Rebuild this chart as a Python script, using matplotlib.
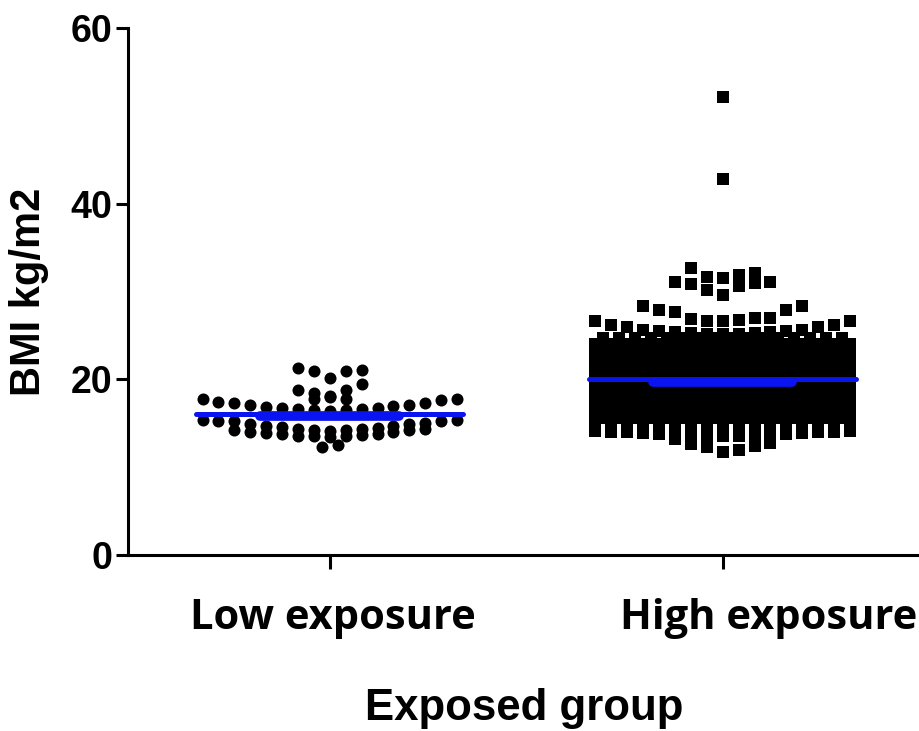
import matplotlib
matplotlib.use("Agg")
import matplotlib.pyplot as plt
import numpy as np

groups = ["Low exposure", "High exposure"]

# BMI values, one list per horizontal row of the dot plot, read left to right
low_rows = [
    [21.3, 21.0, 20.2, 21.0, 21.1],
    [18.8, 18.4, 18.0, 18.8, 19.5],
    [17.8, 18.1, 17.8],
    [17.8, 17.45, 17.3, 17.1, 16.9, 16.7, 16.6, 16.5, 16.4, 16.5, 16.6, 16.7, 17.0, 17.1, 17.3, 17.6, 17.8],
    [15.4, 15.3, 15.2, 14.9, 14.7, 14.6, 14.3, 14.2, 14.1, 14.2, 14.3, 14.5, 14.7, 14.9, 15.0, 15.2, 15.4],
    [14.2, 14.0, 13.9, 13.8, 13.6, 13.5, 13.4, 13.5, 13.7, 13.8, 14.0, 14.2, 14.4],
    [12.3, 12.5],
]

high_outliers = [52.2, 42.8]
high_top_rows = [
    [31.1, 32.7, 31.7, 31.5, 31.9, 32.1, 31.1],
    [30.8, 30.2, 29.6, 30.6, 31.0],
    [28.4, 27.9, 27.7, 26.9, 26.6, 26.6, 26.8, 27.0, 27.0, 27.9, 28.4],
    [26.6, 26.2, 25.9, 25.6, 25.5, 25.4, 25.3, 25.2, 25.2, 25.2, 25.3, 25.4, 25.5, 25.6, 25.9, 26.2, 26.6],
]
# the packed middle of the high group: row level and points per row
high_dense_levels = [24.7, 24.05, 23.4, 22.75, 22.1, 21.45, 20.8, 20.15,
                     19.5, 18.85, 18.2, 17.55, 16.9, 16.25, 15.6, 14.95]
high_dense_counts = [16, 17] * 8
high_bottom_rows = [
    [14.1, 14.0, 14.0, 13.9, 13.8, 13.7, 13.6, 13.5, 13.5, 13.5, 13.6, 13.7, 13.8, 13.9, 14.0, 14.0, 14.1],
    [13.2, 12.6, 12.3, 11.7, 11.9, 12.4, 12.8],
]

# blue summary lines (wide thin line and short thick line)
line_wide = [16.05, 20.0]
line_narrow = [15.8, 19.7]

high_rows = (
    [[v] for v in high_outliers]
    + high_top_rows
    + [[v] * n for v, n in zip(high_dense_levels, high_dense_counts)]
    + high_bottom_rows
)

DX = 0.0405
WIDE_HALF = 0.34
NARROW_HALF = 0.177

fig = plt.figure(figsize=(9.2, 7.31), dpi=100)
ax = fig.add_axes([0.139, 0.2408, 0.861, 0.7209])


def draw_rows(rows, xc, marker, size):
    for row in rows:
        n = len(row)
        offs = (np.arange(n) - (n - 1) / 2) * DX
        ax.scatter(xc + offs, row, marker=marker, s=size, c="black",
                   linewidths=0, zorder=2)


draw_rows(low_rows, 0, "o", 75)
draw_rows(high_rows, 1, "s", 66)

for i in range(len(groups)):
    ax.plot([i - WIDE_HALF, i + WIDE_HALF], [line_wide[i]] * 2, color="#0a14f0",
            lw=3.6, solid_capstyle="round", zorder=3)
    ax.plot([i - NARROW_HALF, i + NARROW_HALF], [line_narrow[i]] * 2, color="#0a14f0",
            lw=7.0, solid_capstyle="round", zorder=3)

ax.set_xlim(-0.514, 1.502)
ax.set_ylim(0, 60)
ax.set_yticks([0, 20, 40, 60])
ax.set_xticks([0, 1])
ax.set_xticklabels([])
for lab in ax.get_yticklabels():
    lab.set_fontfamily("Liberation Sans")
    lab.set_fontweight("bold")
    lab.set_fontsize(27)

# category labels; the second one sits right of its tick in the original
for i, (name, shift) in enumerate(zip(groups, [2, 33])):
    ax.annotate(name, xy=(i, 0), xycoords=("data", "axes fraction"),
                xytext=(shift, -53), textcoords="offset points",
                ha="center", va="baseline", fontfamily="Open Sans",
                fontweight="bold", fontsize=30, annotation_clip=False)

ax.tick_params(axis="y", length=9, width=2.2, pad=2)
ax.tick_params(axis="x", length=10, width=2.2)

for side in ["top", "right"]:
    ax.spines[side].set_visible(False)
for side in ["left", "bottom"]:
    ax.spines[side].set_linewidth(2.2)

ax.set_ylabel("BMI kg/m2", fontfamily="Liberation Sans", fontweight="bold",
              fontsize=30, labelpad=16)
ax.set_xlabel("Exposed group", fontfamily="Liberation Sans", fontweight="bold",
              fontsize=31.5)
ax.xaxis.set_label_coords(0.5, -0.252)

fig.savefig("out.png", dpi=100)
